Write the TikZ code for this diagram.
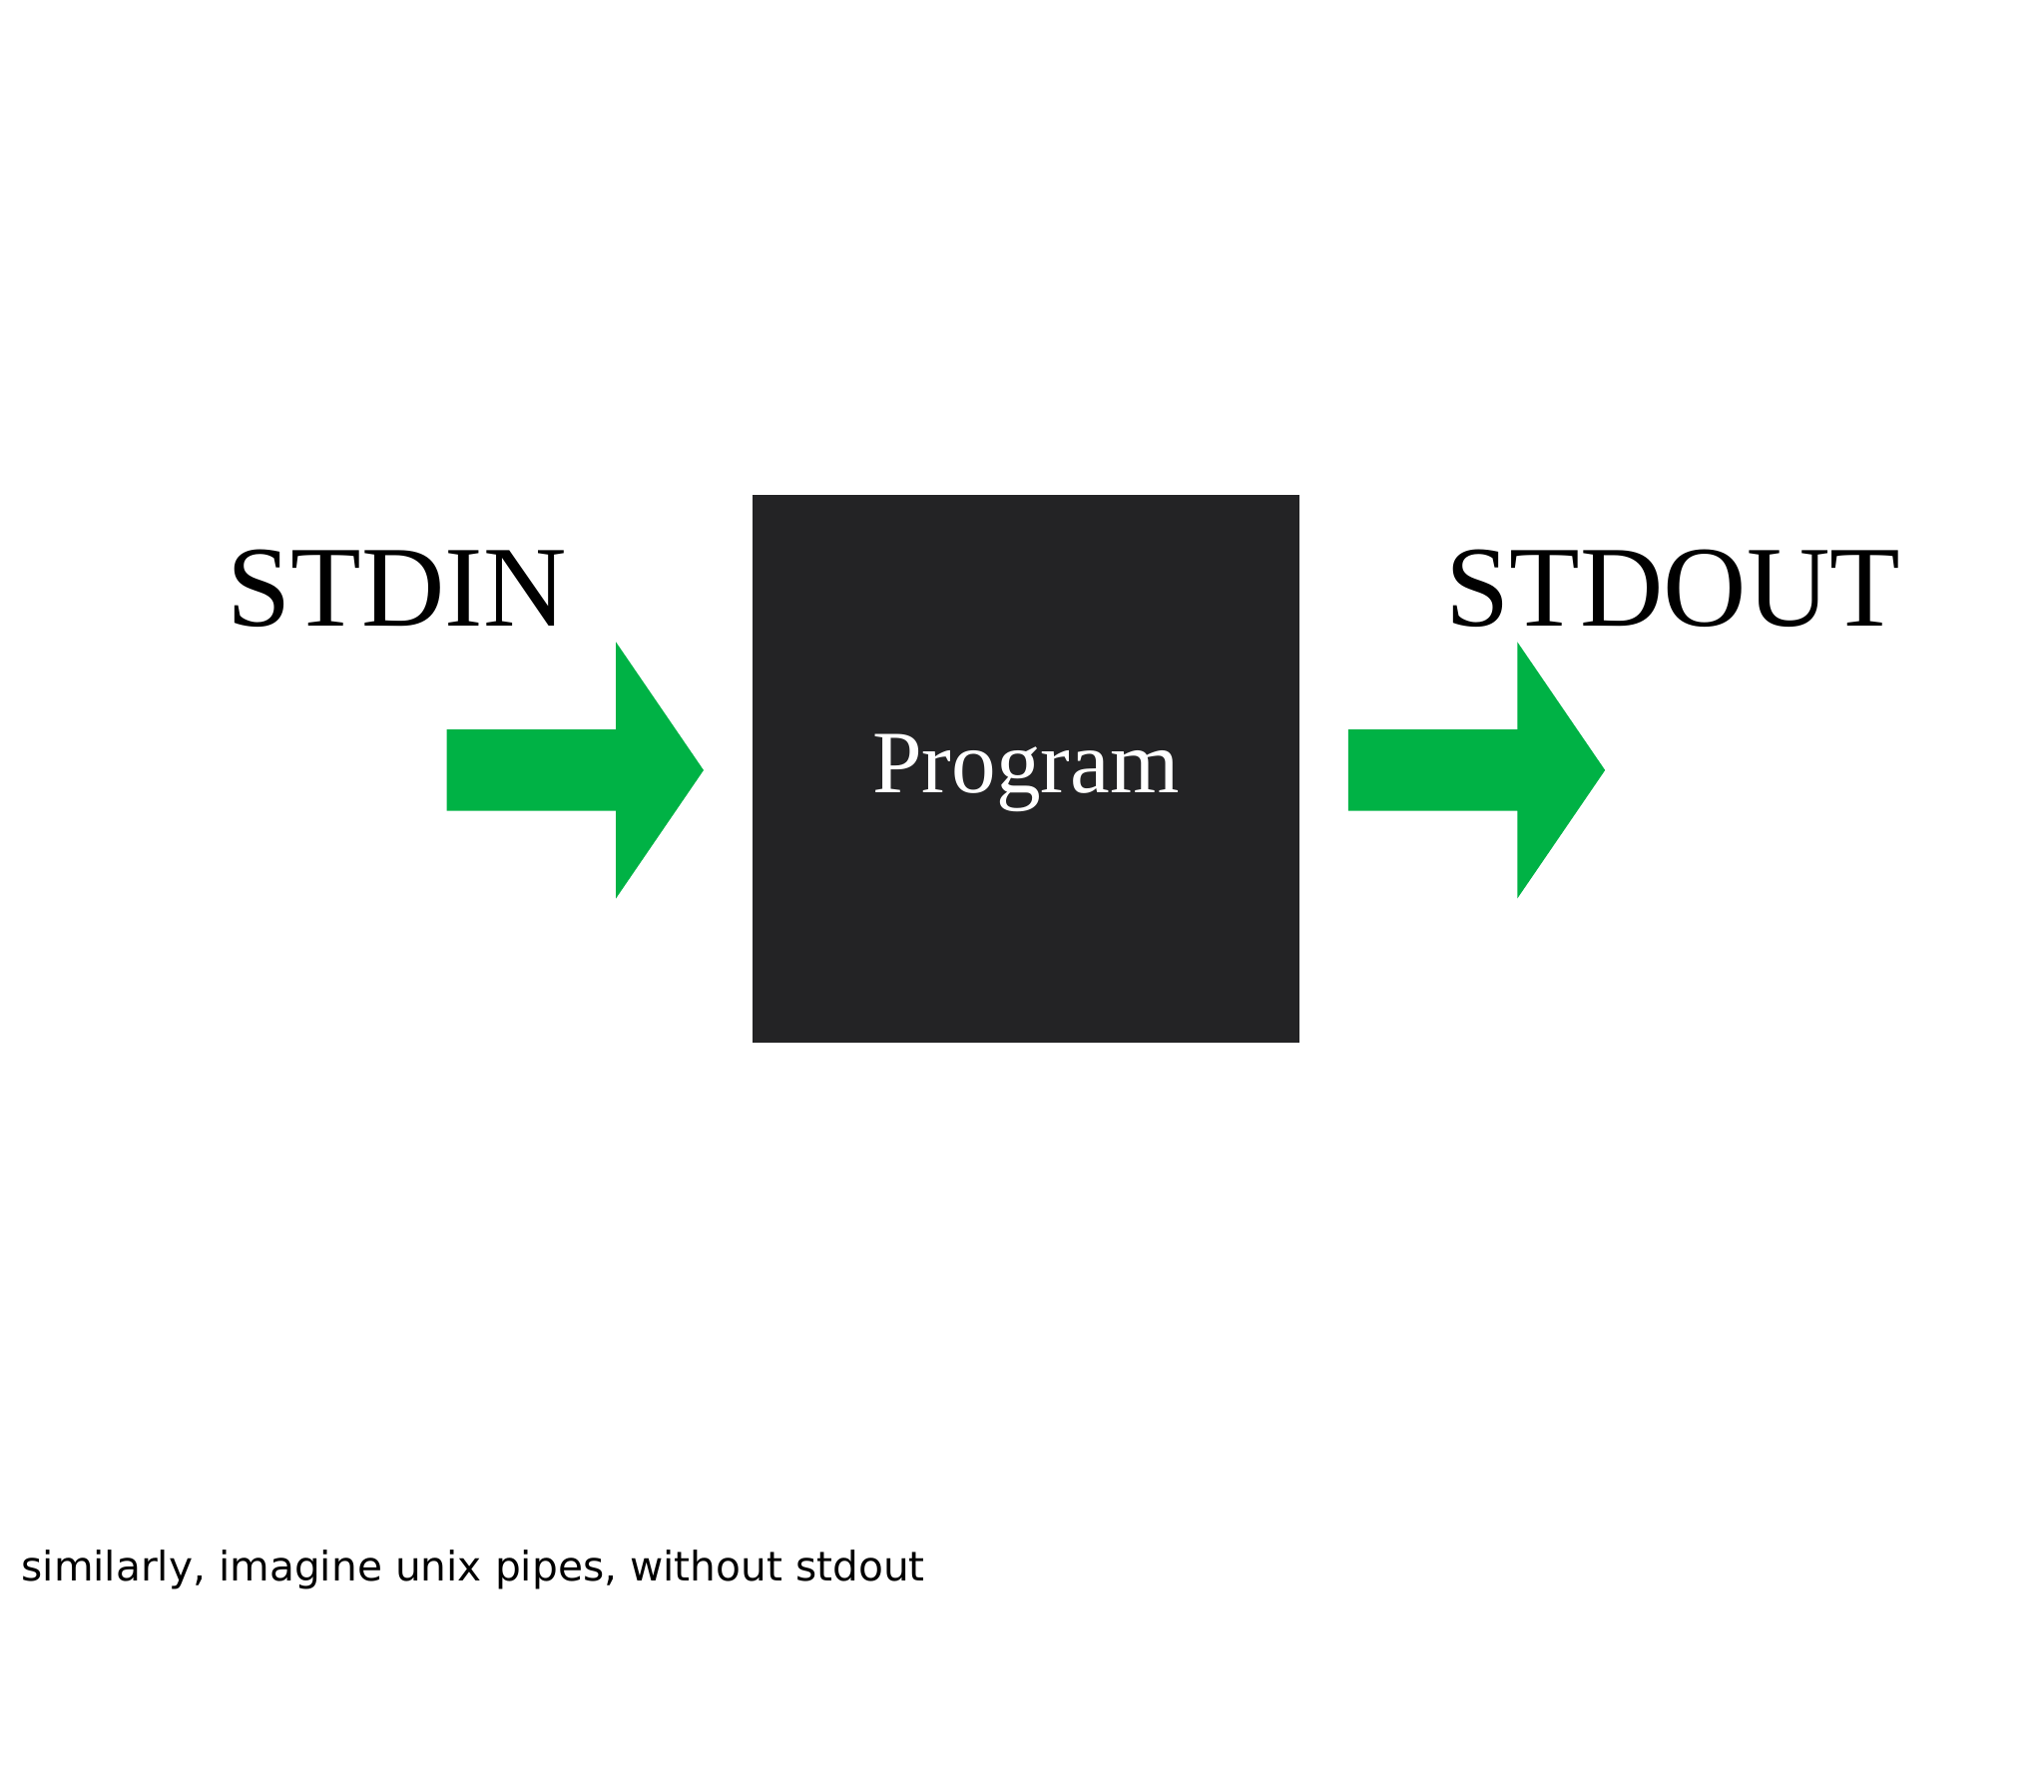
\documentclass[tikz,border=0pt]{standalone}
\usepackage{fontspec}
\setmainfont{Liberation Serif}
\newfontfamily\capfont{DejaVu Sans}
\definecolor{grn}{HTML}{00B245}
\definecolor{boxc}{HTML}{232325}
\tikzset{fatarrow/.style={fill=grn,draw=none},
lbl/.style={inner sep=0pt,font=\fontsize{44}{50}\selectfont}}
\begin{document}
\begin{tikzpicture}[x=0.5pt,y=-0.5pt]
\useasboundingbox (0,0) rectangle (1560,1368);
\fill[boxc] (574,378) rectangle (992,796);
\node[inner sep=0pt,text=white,font=\fontsize{34}{40}\selectfont] (prog) at (783,590) {Program};
\fill[fatarrow] (341,557) -- (470,557) -- (470,490) -- (537,588) -- (470,686) -- (470,619) -- (341,619) -- cycle;
\fill[fatarrow] (1029,557) -- (1158,557) -- (1158,490) -- (1225,588) -- (1158,686) -- (1158,619) -- (1029,619) -- cycle;
\node[lbl,anchor=base] (in) at (303,478) {STDIN};
\node[lbl,anchor=base] (out) at (1277,478) {STDOUT};
\node[inner sep=0pt,anchor=base west,font=\capfont\fontsize{15.5}{18}\selectfont] (cap) at (16,1207) {similarly, imagine unix pipes, without stdout};
\end{tikzpicture}
\end{document}
